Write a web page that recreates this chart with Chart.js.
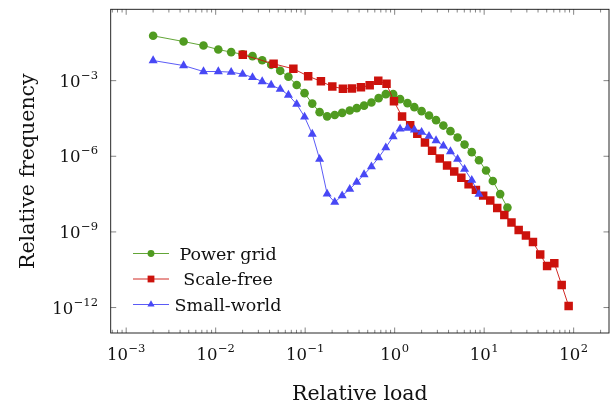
<!DOCTYPE html>
<html><head><meta charset="utf-8">
<script src="https://cdn.jsdelivr.net/npm/chart.js@4.4.1/dist/chart.umd.min.js"></script>
<style>html,body{margin:0;padding:0;background:#fff}</style>
</head><body>
<canvas id="c" width="615" height="405"></canvas>
<script>
// ---- data ----
const seriesNames = ['Power grid', 'Scale-free', 'Small-world'];

const powerGridLoad = [0.00200, 0.00438, 0.00731, 0.0107, 0.0149, 0.0200, 0.0258, 0.0331, 0.0417, 0.0526, 0.0650, 0.0804, 0.0984, 0.120, 0.145, 0.176, 0.214, 0.259, 0.315, 0.377, 0.455, 0.550, 0.662, 0.796, 0.962, 1.15, 1.39, 1.66, 2.00, 2.42, 2.90, 3.50, 4.20, 5.05, 6.04, 7.27, 8.75, 10.5, 12.5, 15.1, 18.2];
const powerGridFreq = [6.0e-2, 3.56e-2, 2.47e-2, 1.71e-2, 1.35e-2, 1.11e-2, 9.38e-3, 6.40e-3, 4.24e-3, 2.45e-3, 1.42e-3, 6.69e-4, 3.19e-4, 1.23e-4, 5.62e-5, 3.83e-5, 4.31e-5, 5.27e-5, 6.50e-5, 8.11e-5, 1.02e-4, 1.35e-4, 2.02e-4, 2.91e-4, 2.91e-4, 1.85e-4, 1.28e-4, 8.87e-5, 6.16e-5, 4.12e-5, 2.71e-5, 1.65e-5, 9.91e-6, 5.52e-6, 2.91e-6, 1.46e-6, 7.00e-7, 2.71e-7, 1.04e-7, 3.16e-8, 9.20e-9];

const scaleFreeLoad = [0.0201, 0.0444, 0.0738, 0.108, 0.150, 0.201, 0.264, 0.333, 0.420, 0.526, 0.656, 0.811, 0.982, 1.21, 1.49, 1.79, 2.18, 2.62, 3.19, 3.85, 4.63, 5.56, 6.70, 8.09, 9.75, 11.7, 14.0, 16.8, 20.2, 24.3, 29.3, 35.1, 42.3, 50.5, 60.8, 73.5, 87.9];
const scaleFreeFreq = [1.06e-2, 4.65e-3, 2.94e-3, 1.51e-3, 9.38e-4, 5.83e-4, 4.82e-4, 4.85e-4, 5.42e-4, 6.51e-4, 9.82e-4, 7.46e-4, 1.51e-4, 3.76e-5, 1.71e-5, 7.74e-6, 3.50e-6, 1.64e-6, 8.11e-7, 4.28e-7, 2.47e-7, 1.42e-7, 7.82e-8, 4.65e-8, 2.75e-8, 1.78e-8, 8.95e-9, 4.65e-9, 2.34e-9, 1.20e-9, 7.13e-10, 4.01e-10, 1.26e-10, 4.48e-11, 5.73e-11, 7.88e-12, 1.16e-12];

const smallWorldLoad = [0.00200, 0.00438, 0.00731, 0.0107, 0.0149, 0.0200, 0.0258, 0.0331, 0.0417, 0.0526, 0.0650, 0.0804, 0.0984, 0.120, 0.145, 0.176, 0.214, 0.259, 0.315, 0.377, 0.455, 0.550, 0.662, 0.796, 0.962, 1.15, 1.39, 1.66, 2.00, 2.42, 2.90, 3.50, 4.20, 5.05, 6.04, 7.27, 8.75];
const smallWorldFreq = [6.28e-3, 3.97e-3, 2.30e-3, 2.30e-3, 2.17e-3, 1.81e-3, 1.35e-3, 9.21e-4, 6.69e-4, 4.60e-4, 2.68e-4, 1.17e-4, 3.66e-5, 7.61e-6, 7.67e-7, 3.22e-8, 1.51e-8, 2.73e-8, 4.99e-8, 9.37e-8, 1.88e-7, 3.90e-7, 8.87e-7, 2.21e-6, 6.05e-6, 1.22e-5, 1.30e-5, 1.12e-5, 9.04e-6, 6.28e-6, 4.20e-6, 2.59e-6, 1.54e-6, 7.67e-7, 3.08e-7, 1.13e-7, 3.16e-8];

const xTickExponents = [-3, -2, -1, 0, 1, 2];
const yTickExponents = [-3, -6, -9, -12];
const xTitle = 'Relative load';
const yTitle = 'Relative frequency';
const xMinExp = -3.173, xMaxExp = 2.395;
const yMinExp = -13.01, yMaxExp = -0.17;

// ---- styles ----
const GREEN = 'rgb(80,155,32)', RED = 'rgb(204,18,12)', BLUE = 'rgb(72,72,245)';
const SERIF = '"DejaVu Serif", serif';

function pts(xs, ys) { return xs.map((x, i) => ({ x: x, y: ys[i] })); }
function supText(e) { return String(e).replace('-', '\u2212'); }

const pgfPlugin = {
  id: 'pgf',
  beforeDatasetsDraw(chart) {
    const { ctx, chartArea: a, scales: { x, y } } = chart;
    ctx.save();
    ctx.strokeStyle = '#666';
    ctx.lineWidth = 0.8;
    ctx.beginPath();
    x.ticks.forEach(t => {
      const px = x.getPixelForValue(t.value);
      const lg = Math.log10(t.value);
      const L = Math.abs(lg - Math.round(lg)) < 1e-6 ? 5.5 : 3.2;
      ctx.moveTo(px, a.bottom); ctx.lineTo(px, a.bottom - L);
      ctx.moveTo(px, a.top); ctx.lineTo(px, a.top + L);
    });
    y.ticks.forEach(t => {
      const py = y.getPixelForValue(t.value);
      ctx.moveTo(a.left, py); ctx.lineTo(a.left + 5.5, py);
      ctx.moveTo(a.right, py); ctx.lineTo(a.right - 5.5, py);
    });
    ctx.stroke();
    ctx.strokeStyle = '#111';
    ctx.lineWidth = 0.9;
    ctx.strokeRect(a.left, a.top, a.right - a.left, a.bottom - a.top);
    ctx.restore();
  },
  afterDraw(chart) {
    const { ctx, chartArea: a, scales: { x, y } } = chart;
    ctx.save();
    ctx.fillStyle = '#111';
    ctx.textBaseline = 'alphabetic';
    const bigF = '16.5px ' + SERIF, supF = '11.5px ' + SERIF;
    function measure(e) {
      ctx.font = bigF; const w1 = ctx.measureText('10').width;
      ctx.font = supF; const w2 = ctx.measureText(supText(e)).width;
      return [w1, w2];
    }
    function drawLabel(e, left, base) {
      const [w1] = measure(e);
      ctx.textAlign = 'left';
      ctx.font = bigF; ctx.fillText('10', left, base);
      ctx.font = supF; ctx.fillText(supText(e), left + w1 + 0.5, base - 8);
    }
    xTickExponents.forEach(e => {
      const px = x.getPixelForValue(Math.pow(10, e));
      const [w1, w2] = measure(e);
      drawLabel(e, px - (w1 + w2 + 0.5) / 2, 360);
    });
    yTickExponents.forEach(e => {
      const py = y.getPixelForValue(Math.pow(10, e));
      const [w1, w2] = measure(e);
      drawLabel(e, 98 - (w1 + w2 + 0.5), py + 6);
    });
    // axis titles
    ctx.font = '20.5px ' + SERIF;
    ctx.textAlign = 'center';
    ctx.fillText(xTitle, (a.left + a.right) / 2, 400);
    ctx.save();
    ctx.translate(34, (a.top + a.bottom) / 2);
    ctx.rotate(-Math.PI / 2);
    ctx.fillText(yTitle, 0, 0);
    ctx.restore();
    // legend
    chart.data.datasets.forEach((ds, i) => {
      const ry = 253.5 + i * 25.5;
      ctx.strokeStyle = ds.borderColor; ctx.lineWidth = ds.borderWidth;
      ctx.beginPath(); ctx.moveTo(133, ry); ctx.lineTo(169, ry); ctx.stroke();
      ctx.fillStyle = ds.backgroundColor;
      Chart.helpers.drawPoint(ctx, { pointStyle: ds.pointStyle, radius: ds.pointRadius * 0.8, rotation: 0, borderWidth: 0 }, 151, ry);
      ctx.fillStyle = '#111';
      ctx.font = '17.5px ' + SERIF;
      ctx.textAlign = 'center';
      ctx.fillText(ds.label, 228, ry + 6);
    });
    ctx.restore();
  }
};

const xTicksList = [];
for (let e = -4; e <= 2; e++) for (let m = 1; m <= 9; m++) {
  const v = m * Math.pow(10, e);
  if (v >= Math.pow(10, xMinExp) && v <= Math.pow(10, xMaxExp)) xTicksList.push(v);
}

new Chart(document.getElementById('c'), {
  type: 'line',
  data: {
    datasets: [
      { label: seriesNames[0], data: pts(powerGridLoad, powerGridFreq), borderColor: GREEN, backgroundColor: GREEN, pointStyle: 'circle', pointRadius: 4.3, pointBorderWidth: 0, borderWidth: 0.9, order: 3 },
      { label: seriesNames[1], data: pts(scaleFreeLoad, scaleFreeFreq), borderColor: RED, backgroundColor: RED, pointStyle: 'rect', pointRadius: 6.0, pointBorderWidth: 0, borderWidth: 0.9, order: 2 },
      { label: seriesNames[2], data: pts(smallWorldLoad, smallWorldFreq), borderColor: BLUE, backgroundColor: BLUE, pointStyle: 'triangle', pointRadius: 5.2, pointBorderWidth: 0, borderWidth: 0.9, order: 1 }
    ]
  },
  options: {
    responsive: false,
    animation: false,
    devicePixelRatio: 1,
    layout: { padding: { left: 0, right: 1.5, top: 9.3, bottom: 0 } },
    plugins: { legend: { display: false }, tooltip: { enabled: false } },
    elements: { line: { tension: 0 } },
    scales: {
      x: {
        type: 'logarithmic',
        min: Math.pow(10, xMinExp), max: Math.pow(10, xMaxExp),
        grid: { display: false }, border: { display: false },
        ticks: { display: false },
        afterBuildTicks(s) { s.ticks = xTicksList.map(v => ({ value: v })); },
        afterFit(s) { s.height = 72; }
      },
      y: {
        type: 'logarithmic',
        min: Math.pow(10, yMinExp), max: Math.pow(10, yMaxExp),
        grid: { display: false }, border: { display: false },
        ticks: { display: false },
        afterBuildTicks(s) { s.ticks = yTickExponents.map(e => ({ value: Math.pow(10, e) })); },
        afterFit(s) { s.width = 110.7; }
      }
    }
  },
  plugins: [pgfPlugin]
});
</script>
</body></html>
